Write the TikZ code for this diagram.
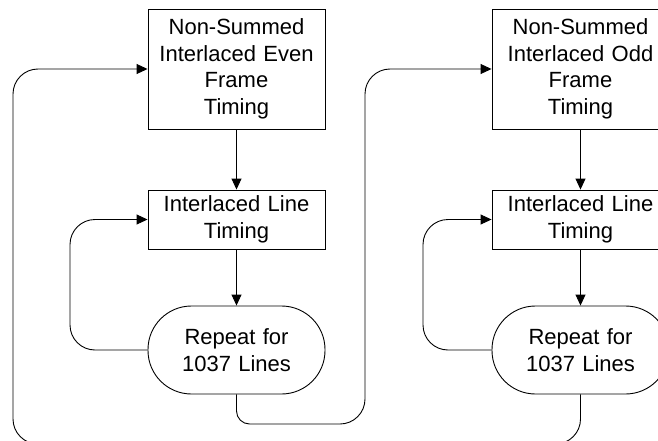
\documentclass[tikz,border=0pt]{standalone}
\usepackage{fontspec}
\setmainfont{Liberation Sans}
\usetikzlibrary{arrows.meta}
\begin{document}
\begin{tikzpicture}[x=1pt,y=-1pt, line width=0.9pt,
  box/.style={draw, minimum width=177pt, text width=172pt, align=center, inner sep=0pt, font=\fontsize{22}{26.5}\selectfont},
  term/.style={box, rounded corners=43.5pt},
  arr/.style={-{Triangle[length=11pt,width=10pt]}},
  loopline/.style={rounded corners=25pt}]
\useasboundingbox (0,0) rectangle (658,441);
\clip (0,0) rectangle (658,441);
% left column
\node[box, minimum height=120pt] (A) at (236.5,69) {Non-Summed\\Interlaced Even\\Frame\\Timing};
\node[box, minimum height=59pt] (B) at (236.5,219.5) {Interlaced Line\\Timing};
\node[term, minimum height=88pt] (C) at (236.5,350) {Repeat for\\1037 Lines};
% right column
\node[box, minimum height=120pt] (A2) at (580.5,69) {Non-Summed\\Interlaced Odd\\Frame\\Timing};
\node[box, minimum height=59pt] (B2) at (580.5,219.5) {Interlaced Line\\Timing};
\node[term, minimum height=88pt] (C2) at (580.5,350) {Repeat for\\1037 Lines};
% guide coordinates
\coordinate (x0) at (13,0);
\coordinate (x1) at (70,0);
\coordinate (x2) at (365,0);
\coordinate (x3) at (423,0);
\coordinate (yb) at (0,424);
\coordinate (yb2) at (0,444);
% connectors
\draw[arr] (A) -- (B);
\draw[arr] (B) -- (C);
\draw[arr] (A2) -- (B2);
\draw[arr] (B2) -- (C2);
\draw[arr, loopline] (C.west) -- (C.west -| x1) -- (B.west -| x1) -- (B.west);
\draw[arr, loopline] (C2.west) -- (C2.west -| x3) -- (B2.west -| x3) -- (B2.west);
\draw[arr, rounded corners=13pt] (C.south) -- (C.south |- yb) [rounded corners=25pt] -- (x2 |- yb) -- (x2 |- A2.west) -- (A2.west);
\draw[arr, loopline] (C2.south) -- (C2.south |- yb2) -- (x0 |- yb2) -- (x0 |- A.west) -- (A.west);
\end{tikzpicture}
\end{document}
